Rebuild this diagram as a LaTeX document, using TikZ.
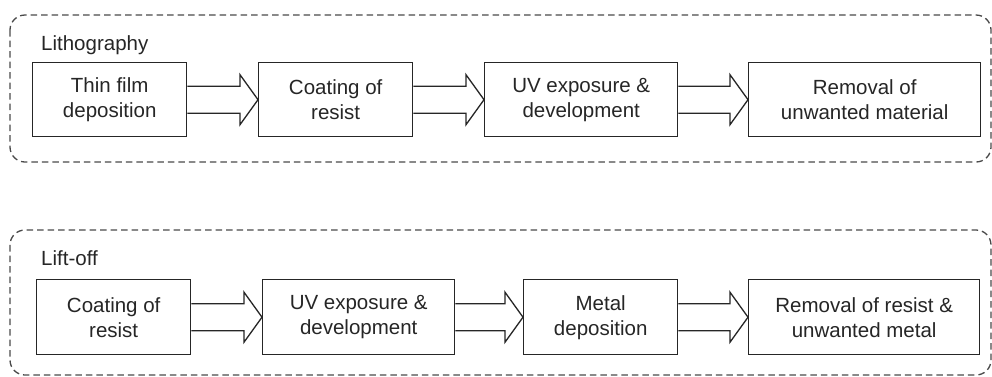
\documentclass[tikz,border=0pt]{standalone}
\usepackage{fontspec}
\setmainfont{Liberation Sans}
\usetikzlibrary{calc}
\definecolor{ink}{HTML}{262626}
\definecolor{framec}{HTML}{4A4A4A}
\tikzset{
  stepbox/.style={draw=ink, line width=1.4pt, rectangle, anchor=north west, inner sep=0pt, align=center, text=ink, font=\fontsize{20.5}{25}\selectfont},
  frame/.style={draw=framec, line width=1.3pt, dash pattern=on 6.5pt off 4pt, rounded corners=15pt},
  grouplabel/.style={anchor=base west, inner sep=0pt, text=ink, font=\fontsize{20.5}{25}\selectfont},
  fat/.style={draw=ink, line width=1.3pt, line join=miter}
}
\newcommand{\fatarrow}[2]{%
  \draw[fat] ($(#1.east)+(0,13.5)$) -- ($(#2.west)+(-18,13.5)$) -- ($(#2.west)+(-18,25)$) -- (#2.west)
    -- ($(#2.west)+(-18,-25)$) -- ($(#2.west)+(-18,-13.5)$) -- ($(#1.east)+(0,-13.5)$);}
\begin{document}
\begin{tikzpicture}[x=1pt,y=-1pt]
\useasboundingbox (0,0) rectangle (992,376);
\fill[white] (0,0) rectangle (992,376);
% frames
\draw[frame] (10,15) rectangle (991,162);
\draw[frame] (10,230) rectangle (991,375);
\node[grouplabel] (lith) at (41,50) {Lithography};
\node[grouplabel] (lift) at (41,265) {Lift-off};
% row 1
\node[stepbox, minimum width=154pt, minimum height=74pt] (a1) at (32,62) {Thin film\\deposition};
\node[stepbox, minimum width=154pt, minimum height=74pt] (a2) at (258,62) {Coating of\\resist};
\node[stepbox, minimum width=193pt, minimum height=74pt] (a3) at (484,62) {UV exposure \&\\development};
\node[stepbox, minimum width=232pt, minimum height=74pt] (a4) at (748,62) {Removal of\\unwanted material};
\fatarrow{a1}{a2}
\fatarrow{a2}{a3}
\fatarrow{a3}{a4}
% row 2
\node[stepbox, minimum width=154pt, minimum height=75pt] (b1) at (36,279) {Coating of\\resist};
\node[stepbox, minimum width=192pt, minimum height=75pt] (b2) at (262,279) {UV exposure \&\\development};
\node[stepbox, minimum width=154pt, minimum height=75pt] (b3) at (523,279) {Metal\\deposition};
\node[stepbox, minimum width=231pt, minimum height=75pt] (b4) at (748,279) {Removal of resist \&\\unwanted metal};
\fatarrow{b1}{b2}
\fatarrow{b2}{b3}
\fatarrow{b3}{b4}
\end{tikzpicture}
\end{document}
